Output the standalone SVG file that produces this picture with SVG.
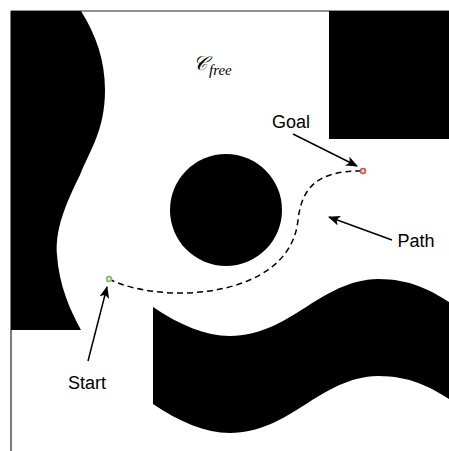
<svg xmlns="http://www.w3.org/2000/svg" width="449" height="451" viewBox="0 0 449 451">
  <style>
    .obst { fill: #000000; stroke: none; }
    .frame { stroke: #222222; stroke-width: 1.2; fill: none; }
    .arrow { stroke: #000000; stroke-width: 1.5; fill: none; marker-end: url(#ah); }
    .label { font-family: "Liberation Sans", Arial, sans-serif; font-size: 18px; fill: #000000; text-anchor: middle; }
    .math { font-family: "Liberation Serif", "DejaVu Serif", serif; fill: #000000; }
    .route { stroke: #000000; stroke-width: 1.5; stroke-dasharray: 6 4; fill: none; }
  </style>
  <defs>
    <marker id="ah" viewBox="0 0 12 10" refX="11" refY="5" markerWidth="12" markerHeight="10" markerUnits="userSpaceOnUse" orient="auto">
      <path d="M0,0 L12,5 L0,10 L3,5 Z" fill="#000000"/>
    </marker>
  </defs>
  <rect width="449" height="451" fill="#ffffff"/>

  <g id="frame">
    <line class="frame" x1="11" y1="11" x2="449" y2="11"/>
    <line class="frame" x1="11" y1="11" x2="11" y2="451"/>
  </g>

  <g id="obstacle-left">
    <path class="obst" d="M11,11 L81,11 C96,35 105,60 105,90 C105,130 90,150 80,175 C65,205 55,230 57,255 C59,285 70,310 81,330 L11,330 Z"/>
  </g>
  <g id="obstacle-topright">
    <rect class="obst" x="329" y="11" width="120" height="128"/>
  </g>
  <g id="obstacle-circle">
    <circle class="obst" cx="226" cy="210" r="56"/>
  </g>
  <g id="obstacle-bottom">
    <path class="obst" d="M153,307 C180,325 205,336 230,336 C290,336 320,280 378,279 C410,279 430,290 449,302 L449,399 C430,387 410,376 378,376 C320,377 290,433 230,433 C205,433 180,422 153,404 Z"/>
  </g>

  <g id="cfree">
    <text class="math" x="193" y="70" font-size="20" font-style="italic">𝒞<tspan font-size="15" dy="5" dx="1" font-style="italic">free</tspan></text>
  </g>

  <g id="connectors">
    <path id="path-route" class="route" d="M109,279 C160,305 290,300 298,220 C302,185 320,171 361,171"/>
    <line class="arrow" x1="293" y1="134" x2="357" y2="166"/>
    <line class="arrow" x1="392" y1="240" x2="329" y2="217"/>
    <line class="arrow" x1="88" y1="361" x2="107" y2="287"/>
  </g>

  <g id="start">
    <circle cx="109" cy="279" r="2.5" fill="#d5e8d4" stroke="#82b366" stroke-width="1.5"/>
  </g>
  <g id="goal">
    <circle cx="363" cy="171" r="2.5" fill="#f8cecc" stroke="#d05050" stroke-width="1.5"/>
  </g>

  <g id="label-goal"><text class="label" x="291" y="128">Goal</text></g>
  <g id="label-path"><text class="label" x="416" y="247">Path</text></g>
  <g id="label-start"><text class="label" x="87" y="389">Start</text></g>
</svg>
